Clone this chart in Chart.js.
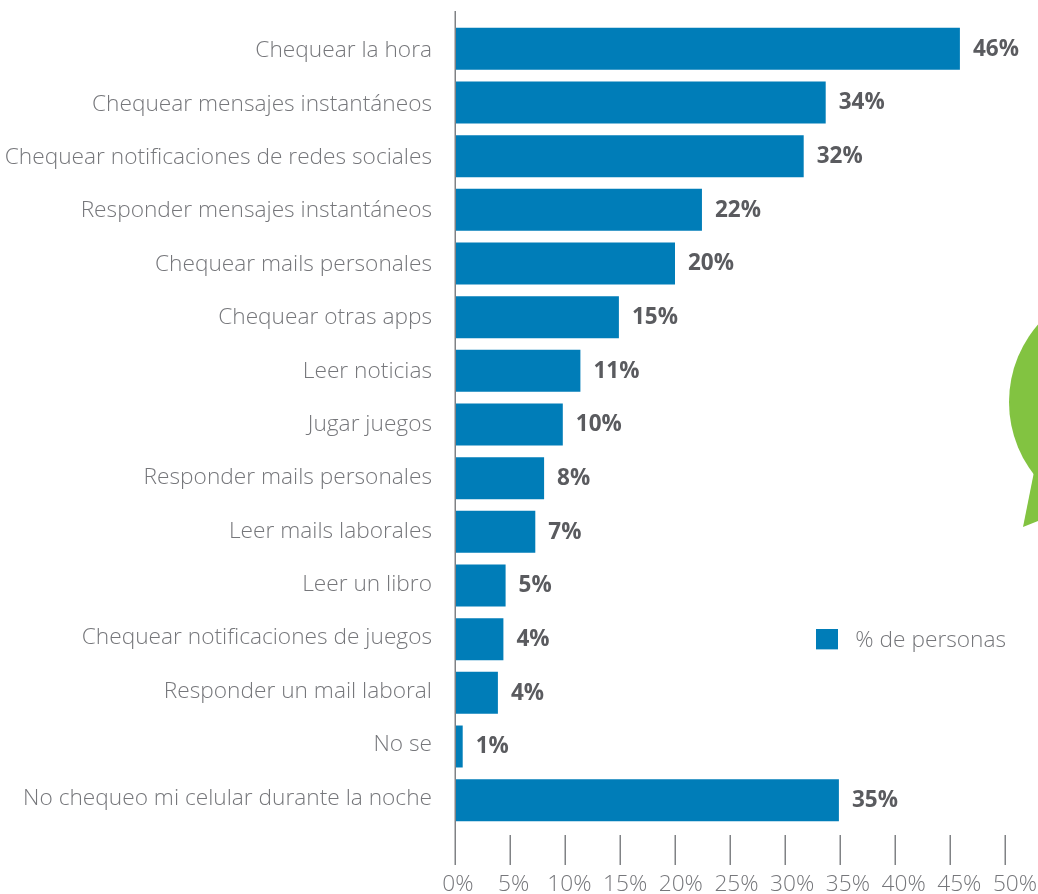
<!DOCTYPE html>
<html>
<head>
<meta charset="utf-8">
<style>
html,body{margin:0;padding:0;background:#fff;width:1038px;height:894px;overflow:hidden}
canvas{display:block}
</style>
<script src="https://cdn.jsdelivr.net/npm/chart.js@4"></script>
</head>
<body>
<canvas id="c" width="1038" height="894"></canvas>
<script>
const categories = ["Chequear la hora","Chequear mensajes instantáneos","Chequear notificaciones de redes sociales","Responder mensajes instantáneos","Chequear mails personales","Chequear otras apps","Leer noticias","Jugar juegos","Responder mails personales","Leer mails laborales","Leer un libro","Chequear notificaciones de juegos","Responder un mail laboral","No se","No chequeo mi celular durante la noche"];
const values = [45.9,33.7,31.7,22.45,20,14.9,11.4,9.8,8.1,7.3,4.6,4.4,3.9,0.7,34.9];
const valueLabels = ["46%","34%","32%","22%","20%","15%","11%","10%","8%","7%","5%","4%","4%","1%","35%"];
const seriesName = "% de personas";
const xTicks = [0,5,10,15,20,25,30,35,40,45,50];

const FONT = '"Open Sans", sans-serif';
const GREY = '#76777b';
const BLUE = '#007db8';

// legend swatch: a 22px square placed inside a larger cell, so the legend text sits right of and below it
const swatch = document.createElement('canvas');
swatch.width = 28; swatch.height = 26;
const sw = swatch.getContext('2d');
sw.fillStyle = BLUE;
sw.fillRect(0,0,22,22);

const extras = {
  id:'extras',
  beforeDatasetsDraw(chart){
    const ctx = chart.ctx;
    // decorative green speech bubble, clipped by the page edge
    ctx.save();
    ctx.fillStyle = '#82c341';
    ctx.beginPath();
    ctx.arc(1127,402,118,0,Math.PI*2);
    ctx.fill();
    ctx.beginPath();
    ctx.moveTo(1034,472);
    ctx.lineTo(1023,527);
    ctx.lineTo(1060,512);
    ctx.closePath();
    ctx.fill();
    ctx.restore();
  },
  beforeDraw(chart){
    const lg = chart.legend;
    const w = lg.width, h = lg.height;
    lg.left = 816; lg.right = 816 + w; lg.top = 629; lg.bottom = 629 + h;
    chart.scales.x.getLabelItems().forEach((it,i)=>{
      if(!it._shifted){ it.options.translation[0] += 3 + i*0.7; it._shifted = true; }
    });
    chart.scales.y.getLabelItems().forEach((it,i)=>{
      if(!it._shifted){ it.options.translation[1] += 2 - i*0.29; it._shifted = true; }
    });
  },
  afterDraw(chart){
    const ctx = chart.ctx, x = chart.scales.x, y = chart.scales.y;
    ctx.save();
    ctx.strokeStyle = '#808285';
    ctx.lineWidth = 1.5;
    xTicks.forEach(v=>{
      const px = Math.round(x.getPixelForValue(v)) + 0.25;
      ctx.beginPath();
      ctx.moveTo(px, v===0 ? 11 : 835);
      ctx.lineTo(px, 865);
      ctx.stroke();
    });
    ctx.fillStyle = '#5a5b5f';
    ctx.font = '700 22.5px ' + FONT;
    ctx.textAlign = 'left';
    ctx.textBaseline = 'middle';
    valueLabels.forEach((t,i)=>{
      ctx.fillText(t, x.getPixelForValue(values[i]) + 13, y.getPixelForValue(i) + 0.5);
    });
    ctx.restore();
  }
};

new Chart(document.getElementById('c'),{
  type:'bar',
  data:{labels:categories,datasets:[{label:seriesName,data:values,backgroundColor:BLUE,borderWidth:0,barPercentage:0.782,categoryPercentage:1}]},
  plugins:[extras],
  options:{
    indexAxis:'y',
    responsive:false,
    animation:false,
    layout:{padding:{top:22,right:33,left:0,bottom:0}},
    plugins:{
      tooltip:{enabled:false},
      legend:{
        position:'chartArea',
        align:'start',
        labels:{usePointStyle:true,pointStyle:swatch,pointStyleWidth:28,boxHeight:22,padding:0,color:GREY,font:{family:FONT,size:22.7,weight:'300'}}
      }
    },
    scales:{
      x:{
        type:'linear',min:0,max:50,
        afterFit(s){s.height=67;s.paddingLeft=0;s.paddingRight=0;s.paddingTop=0;s.paddingBottom=0;},
        afterBuildTicks(s){s.ticks = xTicks.map(v=>({value:v}));},
        border:{display:false},
        grid:{display:false},
        ticks:{callback:v=>v+'%',padding:36,maxRotation:0,autoSkip:false,color:GREY,font:{family:FONT,size:22.7,weight:'300'}}
      },
      y:{
        type:'category',
        afterFit(s){s.width=455;s.paddingLeft=0;s.paddingRight=0;s.paddingTop=0;s.paddingBottom=0;},
        border:{display:false},
        grid:{display:false},
        ticks:{padding:15,autoSkip:false,color:GREY,font:{family:FONT,size:22.7,weight:'300'}}
      }
    }
  }
});
</script>
</body>
</html>
